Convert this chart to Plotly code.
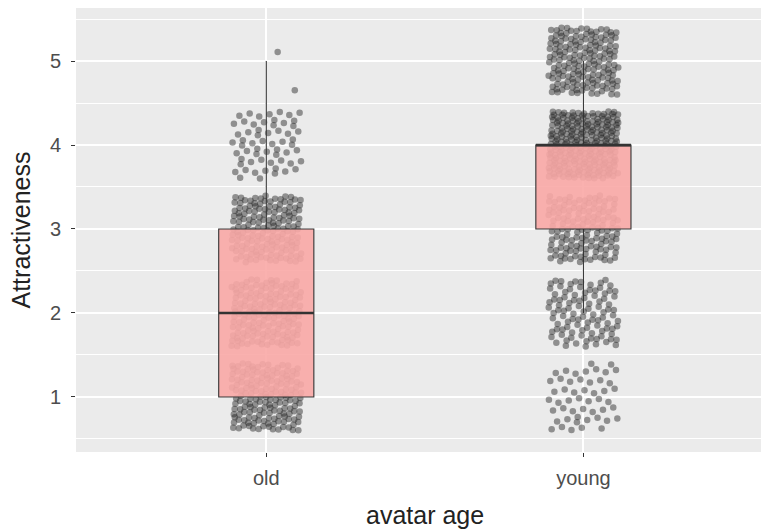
import numpy as np
import plotly.graph_objects as go

# ---- data ----
groups = ["old", "young"]
rating_levels = [1, 2, 3, 4, 5]
old_counts = [165, 160, 160, 60, 2]
young_counts = [50, 100, 140, 260, 170]
y_ticks = [1, 2, 3, 4, 5]

counts = {"old": old_counts, "young": young_counts}

# deterministic jitter (R2 low-discrepancy sequence)
A1, A2 = 0.7548776662466927, 0.5698402909980532
JW, JH = 0.11, 0.4

fig = go.Figure()
n_global = 0
group_values = {}
for gi, g in enumerate(groups):
    pos = gi + 1
    vals = np.repeat(rating_levels, counts[g])
    group_values[g] = vals
    idx = np.arange(n_global, n_global + len(vals))
    n_global += len(vals)
    u = (0.5 + idx * A1) % 1
    v = (0.5 + idx * A2) % 1
    xs = pos + (2 * u - 1) * JW
    ys = vals + (2 * v - 1) * JH
    fig.add_trace(go.Scatter(
        x=xs, y=ys, mode="markers",
        marker=dict(size=6.5, color="rgba(30,30,30,0.45)", line=dict(width=0)),
        showlegend=False, hoverinfo="skip", xaxis="x", yaxis="y"))

for gi, g in enumerate(groups):
    pos = gi + 1
    vals = group_values[g]
    fig.add_trace(go.Box(
        y=vals, x0=pos, width=0.3, boxpoints="outliers", whiskerwidth=0,
        marker=dict(opacity=0, size=1),
        fillcolor="rgba(250,168,166,0.9)",
        line=dict(color="#333333", width=1.1),
        showlegend=False, hoverinfo="skip", xaxis="x2", yaxis="y2"))
    med = float(np.median(vals))
    fig.add_trace(go.Scatter(
        x=[pos - 0.15, pos + 0.15], y=[med, med], mode="lines",
        line=dict(color="#333333", width=2.4),
        showlegend=False, hoverinfo="skip", xaxis="x2", yaxis="y2"))

XR = [0.4, 2.56]
YR = [0.345, 5.631]
font_fam = "Liberation Sans, Arial, sans-serif"

fig.update_layout(
    width=761, height=529,
    margin=dict(l=76, r=0, t=8, b=77),
    paper_bgcolor="white", plot_bgcolor="#EBEBEB",
    font=dict(family=font_fam, color="#4D4D4D"),
    xaxis=dict(range=XR, tickvals=[1, 2], ticktext=groups,
               showgrid=True, gridcolor="white", gridwidth=1.6,
               zeroline=False, ticks="outside", ticklen=4, tickcolor="#333333",
               tickwidth=1, tickfont=dict(size=20, color="#4D4D4D"),
               ticklabelstandoff=4),
    yaxis=dict(range=YR, tickvals=y_ticks,
               showgrid=True, gridcolor="white", gridwidth=1.6,
               minor=dict(tickvals=[0.5, 1.5, 2.5, 3.5, 4.5, 5.5], showgrid=True,
                          gridcolor="white", gridwidth=0.8, ticks=""),
               zeroline=False, ticks="outside", ticklen=4, tickcolor="#333333",
               tickwidth=1, tickfont=dict(size=20, color="#4D4D4D"),
               ticklabelstandoff=6,
               title=dict(text="Attractiveness", font=dict(size=25, color="#222222"), standoff=12)),
    xaxis2=dict(range=XR, overlaying="x", visible=False),
    yaxis2=dict(range=YR, overlaying="y", visible=False),
    annotations=[dict(text="avatar age", xref="x", x=1.5, yref="paper", y=0,
                      xanchor="center", yanchor="middle", yshift=-63, showarrow=False,
                      font=dict(size=25, color="#222222"))],
)

fig.write_html("out.html")
